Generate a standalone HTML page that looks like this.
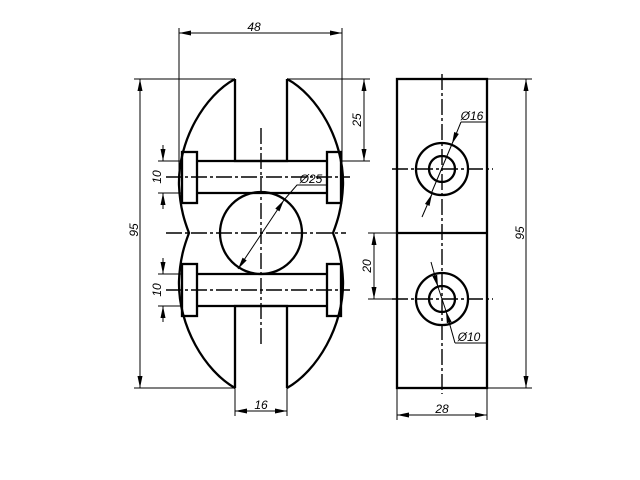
<!DOCTYPE html>
<html><head><meta charset="utf-8"><style>html,body{margin:0;padding:0;background:#fff}svg{display:block}</style></head>
<body>
<svg width="640" height="480" viewBox="0 0 640 480" xmlns="http://www.w3.org/2000/svg">
<defs>
<marker id="a" viewBox="0 0 12 6" refX="12" refY="3" markerWidth="12" markerHeight="6" markerUnits="userSpaceOnUse" orient="auto-start-reverse"><path d="M0,0.5 L12,3 L0,5.5 z" fill="#000"/></marker>
</defs>
<g fill="none" stroke="#000">
<path stroke-width="2.3" d="M235,79 C205,95 178,140 179,185 C180,210 186,225 189,233 C186,241 180,256 179,281 C178,326 205,371 235,388"/>
<path stroke-width="2.3" d="M287,79 C317,95 344,140 343,185 C342,210 336,225 333,233 C336,241 342,256 343,281 C344,326 317,371 287,388"/>
<path stroke-width="2.3" d="M235,79 V161 H287 V79"/>
<path stroke-width="2.3" d="M235,388 V306 H287 V388"/>
<rect stroke-width="2.3" x="182" y="152" width="15" height="51"/>
<rect stroke-width="2.3" x="327" y="152" width="14" height="51"/>
<line stroke-width="2.3" x1="197" y1="161" x2="327" y2="161"/>
<line stroke-width="2.3" x1="197" y1="193" x2="327" y2="193"/>
<rect stroke-width="2.3" x="182" y="264" width="15" height="52"/>
<rect stroke-width="2.3" x="327" y="264" width="14" height="52"/>
<line stroke-width="2.3" x1="197" y1="274" x2="327" y2="274"/>
<line stroke-width="2.3" x1="197" y1="306" x2="327" y2="306"/>
<circle stroke-width="2.3" cx="261" cy="233" r="41"/>
<g stroke-width="1.4" stroke-dasharray="16,3,3,3">
<line x1="261" y1="128" x2="261" y2="346"/>
<line x1="166" y1="177" x2="350" y2="177"/>
<line x1="166" y1="290" x2="350" y2="290"/>
<line x1="166" y1="233" x2="346" y2="233"/>
</g>
<g stroke-width="1">
<line x1="179" y1="28" x2="179" y2="170"/>
<line x1="342" y1="28" x2="342" y2="170"/>
<line x1="179" y1="33" x2="342" y2="33" marker-start="url(#a)" marker-end="url(#a)"/>
<line x1="134" y1="79" x2="235" y2="79"/>
<line x1="134" y1="388" x2="235" y2="388"/>
<line x1="140" y1="79" x2="140" y2="388" marker-start="url(#a)" marker-end="url(#a)"/>
<line x1="287" y1="79" x2="370" y2="79"/>
<line x1="341" y1="161" x2="370" y2="161"/>
<line x1="364" y1="79" x2="364" y2="161" marker-start="url(#a)" marker-end="url(#a)"/>
<line x1="158" y1="161" x2="182" y2="161"/>
<line x1="158" y1="193" x2="182" y2="193"/>
<line x1="163" y1="145" x2="163" y2="161" marker-end="url(#a)"/>
<line x1="163" y1="209" x2="163" y2="193" marker-end="url(#a)"/>
<line x1="158" y1="274" x2="182" y2="274"/>
<line x1="158" y1="306" x2="182" y2="306"/>
<line x1="163" y1="258" x2="163" y2="274" marker-end="url(#a)"/>
<line x1="163" y1="322" x2="163" y2="306" marker-end="url(#a)"/>
<line x1="235" y1="388" x2="235" y2="416"/>
<line x1="287" y1="388" x2="287" y2="416"/>
<line x1="235" y1="411" x2="287" y2="411" marker-start="url(#a)" marker-end="url(#a)"/>
<line x1="238" y1="269" x2="284" y2="200" marker-start="url(#a)" marker-end="url(#a)"/>
<polyline points="284,200 297,185 326,185"/>
</g>
<rect stroke-width="2.3" x="397" y="79" width="90" height="309"/>
<line stroke-width="2.3" x1="397" y1="233" x2="487" y2="233"/>
<circle stroke-width="2.3" cx="442" cy="169" r="26"/>
<circle stroke-width="2.3" cx="442" cy="169" r="13"/>
<circle stroke-width="2.3" cx="442" cy="299" r="26"/>
<circle stroke-width="2.3" cx="442" cy="299" r="13"/>
<g stroke-width="1.4" stroke-dasharray="16,3,3,3">
<line x1="442" y1="74" x2="442" y2="394"/>
<line x1="392" y1="169" x2="493" y2="169"/>
<line x1="392" y1="299" x2="493" y2="299"/>
</g>
<g stroke-width="1">
<line x1="368" y1="233" x2="397" y2="233"/>
<line x1="368" y1="299" x2="397" y2="299"/>
<line x1="374" y1="233" x2="374" y2="299" marker-start="url(#a)" marker-end="url(#a)"/>
<line x1="487" y1="79" x2="532" y2="79"/>
<line x1="487" y1="388" x2="532" y2="388"/>
<line x1="526" y1="79" x2="526" y2="388" marker-start="url(#a)" marker-end="url(#a)"/>
<line x1="397" y1="388" x2="397" y2="420"/>
<line x1="487" y1="388" x2="487" y2="420"/>
<line x1="397" y1="415" x2="487" y2="415" marker-start="url(#a)" marker-end="url(#a)"/>
<line x1="422" y1="217" x2="432" y2="194" marker-end="url(#a)"/>
<line x1="461" y1="122" x2="452" y2="144" marker-end="url(#a)"/>
<line x1="431" y1="194" x2="452" y2="144"/>
<line x1="461" y1="122" x2="487" y2="122"/>
<line x1="431" y1="262" x2="438" y2="287" marker-end="url(#a)"/>
<line x1="455" y1="343" x2="446" y2="311" marker-end="url(#a)"/>
<line x1="438" y1="287" x2="446" y2="311"/>
<line x1="455" y1="343" x2="487" y2="343"/>
</g>
</g>
<g font-family="Liberation Sans, sans-serif" font-style="italic" font-size="12" fill="#000" text-anchor="middle">
<text x="254" y="31">48</text>
<text x="261" y="409">16</text>
<text x="442" y="413">28</text>
<text transform="translate(138,230) rotate(-90)">95</text>
<text transform="translate(361,120) rotate(-90)">25</text>
<text transform="translate(161,177) rotate(-90)">10</text>
<text transform="translate(161,290) rotate(-90)">10</text>
<text transform="translate(371,266) rotate(-90)">20</text>
<text transform="translate(524,233) rotate(-90)">95</text>
<text x="311" y="183">Ø25</text>
<text x="472" y="120">Ø16</text>
<text x="469" y="341">Ø10</text>
</g>
</svg>
</body></html>
